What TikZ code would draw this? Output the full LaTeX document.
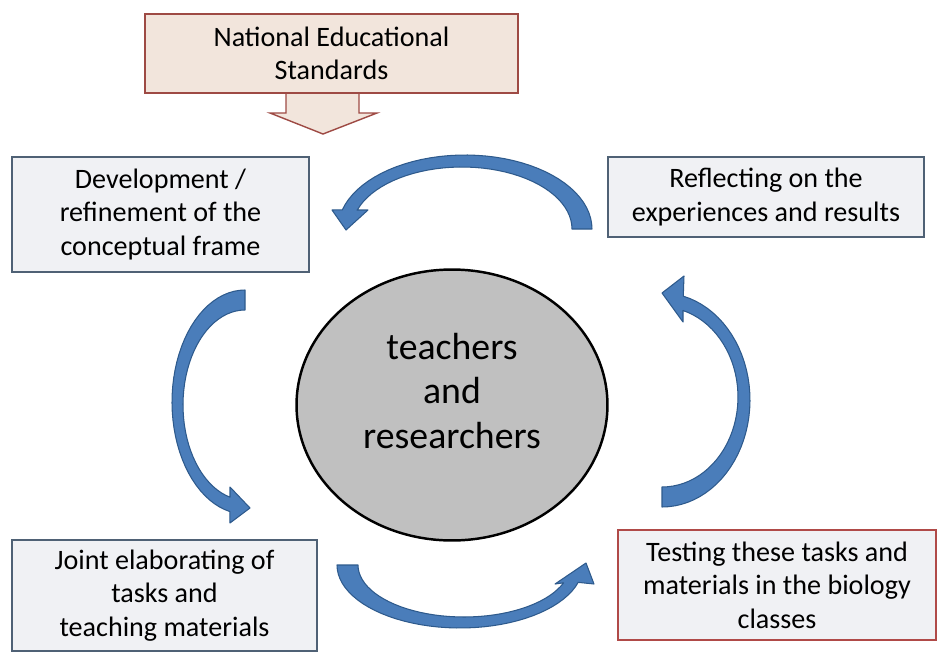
\documentclass[tikz,border=0pt]{standalone}
\usepackage{fontspec}
\setmainfont{Carlito}
\usetikzlibrary{shapes.geometric}
\definecolor{boxfill}{HTML}{F0F1F4}
\definecolor{boxline}{HTML}{4F6175}
\definecolor{natfill}{HTML}{F2E5DC}
\definecolor{natline}{HTML}{9E4A44}
\definecolor{testline}{HTML}{B04A48}
\definecolor{ellfill}{HTML}{C0C0C0}
\definecolor{bandfill}{HTML}{4A7DBA}
\definecolor{bandline}{HTML}{2E5A8C}
\tikzset{
  stagebox/.style={draw=boxline, fill=boxfill, line width=0.8pt, inner sep=0pt, align=center,
    font=\fontsize{16}{19}\selectfont},
  band/.style={fill=bandfill, draw=bandline, line width=0.6pt, line join=round}
}
\begin{document}
\begin{tikzpicture}[x=0.02cm, y=-0.02cm]
		\useasboundingbox (0,0) rectangle (948,656);

		% input arrow below the standards
		\draw[draw=natline, fill=natfill, line width=0.8pt]
			(286,93) -- (286,113) -- (270,113) -- (323,134) -- (377,113) -- (359,113) -- (359,93);
		\node[stagebox, draw=natline, fill=natfill, minimum width=7.46cm, minimum height=1.58cm] (standards) at (331.5,53.5) {National Educational\\Standards};

		\node[stagebox, minimum width=5.94cm, minimum height=2.3cm] (develop) at (160.5,214.5) {Development /\\refinement of the\\conceptual frame};
		\node[stagebox, minimum width=6.32cm, minimum height=1.6cm] (reflect) at (766,197) {Reflecting on the\\experiences and results};
		\node[stagebox, minimum width=6.1cm, minimum height=2.22cm] (joint) at (164.5,595.5) {Joint elaborating of\\tasks and\\teaching materials};
		\node[stagebox, draw=testline, minimum width=6.36cm, minimum height=2.2cm] (testing) at (777,585) {Testing these tasks and\\materials in the biology\\classes};

		\node[ellipse, draw, line width=1.4pt, fill=ellfill, minimum width=6.22cm, minimum height=5.42cm] (people) at (452,405) {};
		\node[align=center, font=\fontsize{21.5}{25.5}\selectfont] (peopletext) at (452,391) {teachers\\and\\researchers};

		% curved arrows of the cycle
		\draw[band] (592,229) -- plot[domain=0:-165, samples=40] ({465+127*cos(\x)},{229+74*sin(\x)})
			-- (332,210) -- (346,230) -- (368,210) -- (357,210)
			-- plot[domain=-162:0, samples=40] ({462+110*cos(\x)},{229+62*sin(\x)}) -- cycle;
		\draw[band] (245,290) -- plot[domain=270:102, samples=40] ({245+73*cos(\x)},{402+112*sin(\x)})
			-- (230,523) -- (250,508) -- (230,487) -- (230,497)
			-- plot[domain=104:270, samples=40] ({245+62*cos(\x)},{405+95*sin(\x)}) -- cycle;
		\draw[band] (337,565) -- plot[domain=180:16, samples=40] ({460+123*cos(\x)},{565+63*sin(\x)})
			-- (594,584) -- (586,563) -- (555,584) -- (563.6,582.8)
			-- plot[domain=20:180, samples=40] ({464+106*cos(\x)},{565+52*sin(\x)}) -- cycle;
		\draw[band] (662,507) -- plot[domain=90:-76, samples=40] ({662+88*cos(\x)},{400+107*sin(\x)})
			-- (684,276) -- (662,293) -- (683,322) -- (683,310.5)
			-- plot[domain=-74:90, samples=40] ({662+76*cos(\x)},{397+90*sin(\x)}) -- cycle;
	\end{tikzpicture}
\end{document}
